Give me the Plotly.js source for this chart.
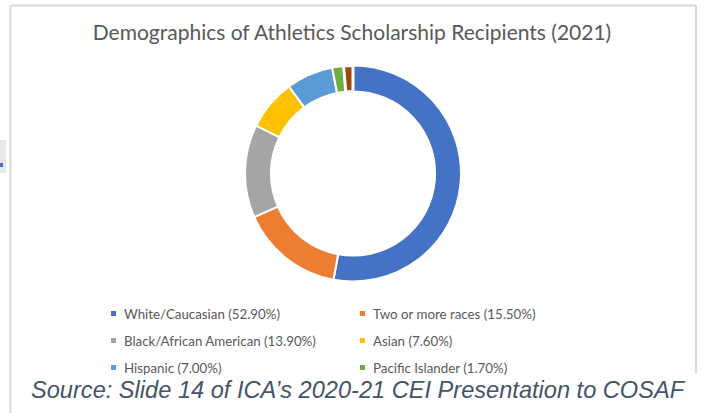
<!DOCTYPE html>
<html>
<head>
<meta charset="utf-8">
<script src="https://cdn.plot.ly/plotly-3.0.1.min.js"></script>
<style>html,body{margin:0;padding:0;background:#fff;}#chart{width:704px;height:413px;}</style>
</head>
<body>
<div id="chart"></div>
<script>
// ---- data ----
var categories = ["White/Caucasian", "Two or more races", "Black/African American", "Asian", "Hispanic", "Pacific Islander", "Other"];
var values = [52.9, 15.5, 13.9, 7.6, 7.0, 1.7, 1.4];
var sliceColors = ["#4472C4", "#ED7D31", "#A5A5A5", "#FFC000", "#5B9BD5", "#70AD47", "#9E480E"];
var legendCount = 6; // only the first six appear in the visible legend

var W = 704, H = 413;
function px(x) { return x / W; }
function py(y) { return 1 - y / H; }

var cx = 353, cy = 173.5, R = 108;

var trace = {
  type: "pie",
  labels: categories,
  values: values,
  sort: false,
  direction: "clockwise",
  rotation: 0,
  hole: 0.76,
  textinfo: "none",
  hoverinfo: "label+percent",
  showlegend: false,
  marker: { colors: sliceColors, line: { color: "#ffffff", width: [2, 2, 2, 2, 2, 2, 3] } },
  domain: { x: [px(cx - R), px(cx + R)], y: [py(cy + R), py(cy - R)] }
};

var shapes = [
  // chart frame
  { type: "line", xref: "paper", yref: "paper", x0: px(10.5), x1: px(696), y0: py(5.5), y1: py(5.5), line: { color: "#D9D9D9", width: 2 }, layer: "below" },
  { type: "line", xref: "paper", yref: "paper", x0: px(10.5), x1: px(10.5), y0: py(5), y1: py(413), line: { color: "#D9D9D9", width: 2 }, layer: "below" },
  { type: "line", xref: "paper", yref: "paper", x0: px(696), x1: px(696), y0: py(5), y1: py(373), line: { color: "#D9D9D9", width: 2 }, layer: "below" },
  // slide artifact at left
  { type: "rect", xref: "paper", yref: "paper", x0: px(0), x1: px(6), y0: py(140), y1: py(173), fillcolor: "#E7E7E7", line: { width: 0 }, layer: "below" },
  { type: "rect", xref: "paper", yref: "paper", x0: px(0), x1: px(3), y0: py(163), y1: py(167), fillcolor: "#4472C4", line: { width: 0 }, layer: "below" }
];

var annotations = [];
var colX = [[111, 122], [360, 371]];
var rowY = [313.5, 340.5, 367.5];
for (var i = 0; i < legendCount; i++) {
  var col = i % 2, row = Math.floor(i / 2);
  var mx = colX[col][0], tx = colX[col][1], y = rowY[row];
  shapes.push({ type: "rect", xref: "paper", yref: "paper",
    x0: px(mx), x1: px(mx + 5), y0: py(y - 2.5), y1: py(y + 2.5),
    fillcolor: sliceColors[i], line: { width: 0 } });
  annotations.push({ xref: "paper", yref: "paper", x: px(tx), y: py(y), xanchor: "left", yanchor: "middle",
    showarrow: false, text: categories[i] + " (" + values[i].toFixed(2) + "%)",
    font: { family: "Lato, sans-serif", size: 13.3, color: "#595959" } });
}

annotations.push({ xref: "paper", yref: "paper", x: px(29), y: py(390), xanchor: "left", yanchor: "middle",
  showarrow: false, text: "<i>Source: Slide 14 of ICA’s 2020-21 CEI Presentation to COSAF</i>",
  font: { family: "Liberation Sans, Arial, sans-serif", size: 23.6, color: "#44546A" } });

var layout = {
  width: W, height: H,
  margin: { l: 0, r: 0, t: 0, b: 0 },
  paper_bgcolor: "#ffffff",
  plot_bgcolor: "#ffffff",
  showlegend: false,
  title: { text: "Demographics of Athletics Scholarship Recipients (2021)", x: 0.5, xanchor: "center", y: py(33), yanchor: "middle",
    font: { family: "Lato, sans-serif", size: 21, color: "#595959" } },
  shapes: shapes,
  annotations: annotations
};

Plotly.newPlot("chart", [trace], layout, { staticPlot: true, displayModeBar: false });
</script>
</body>
</html>
